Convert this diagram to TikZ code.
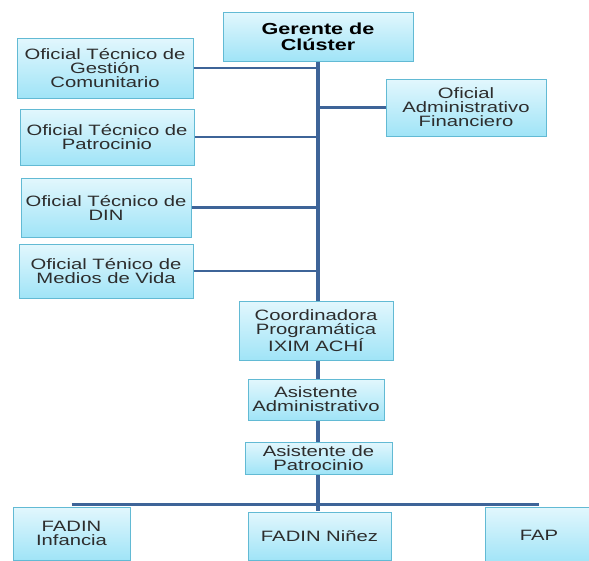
\documentclass[tikz,border=0pt]{standalone}
\usepackage{fontspec}
\setmainfont{Liberation Sans}
\newfontfamily\boxfont[FakeStretch=1.35]{Liberation Sans}
\usetikzlibrary{shadows}
\definecolor{boxtop}{RGB}{226,247,253}
\definecolor{boxbot}{RGB}{160,228,247}
\definecolor{boxborder}{RGB}{98,186,212}
\definecolor{lineblue}{RGB}{62,100,152}
\definecolor{textgray}{RGB}{45,45,45}
\tikzset{
  orgbox/.style={draw=boxborder, line width=1pt, top color=boxtop, bottom color=boxbot,
    drop shadow={shadow xshift=1pt, shadow yshift=-1.2pt, opacity=0.3, fill=black!70},
    inner sep=0pt, align=center, text=textgray,
    font={\boxfont\fontsize{15}{14}\selectfont}},
  headbox/.style={orgbox, text=black, font={\boxfont\bfseries\fontsize{16}{16}\selectfont}},
  trunk/.style={draw=lineblue, line width=4pt},
  branch/.style={draw=lineblue, line width=2.6pt},
}
\begin{document}
\begin{tikzpicture}[x=1pt, y=-1pt]
\useasboundingbox (0,0) rectangle (589,560);
\clip (0,0) rectangle (589,560);
% nodes
\node[headbox, minimum width=190pt, minimum height=49pt] (ger) at (318,36.5) {Gerente de\\Clúster};
\node[orgbox, minimum width=176pt, minimum height=60pt] (b1) at (105,68) {Oficial Técnico de\\Gestión\\Comunitario};
\node[orgbox, minimum width=174pt, minimum height=56pt] (b2) at (107,137) {Oficial Técnico de\\Patrocinio};
\node[orgbox, minimum width=170pt, minimum height=59pt] (b3) at (106,207.5) {Oficial Técnico de\\DIN};
\node[orgbox, minimum width=174pt, minimum height=54pt] (b4) at (106,271) {Oficial Ténico de\\Medios de Vida};
\node[orgbox, minimum width=160pt, minimum height=57pt] (oaf) at (466,107.5) {Oficial\\Administrativo\\Financiero};
% connectors (behind lower boxes)
\begin{scope}[on background layer/.try]
\end{scope}
\coordinate (tb) at (318,511);
\draw[trunk] (ger.south) -- (tb);
\draw[branch] (b1.east) -- (b1.east -| ger.south);
\draw[branch] (b2.east) -- (b2.east -| ger.south);
\draw[branch] (b3.east) -- (b3.east -| ger.south);
\draw[branch] (b4.east) -- (b4.east -| ger.south);
\draw[branch] (oaf.west) -- (oaf.west -| ger.south);
\node[orgbox, minimum width=154pt, minimum height=59pt] (coord) at (316,330.5) {Coordinadora\\Programática\\IXIM ACHÍ};
\node[orgbox, minimum width=136pt, minimum height=41pt] (aadm) at (316,399.5) {Asistente\\Administrativo};
\node[orgbox, minimum width=147pt, minimum height=32pt] (apat) at (318.5,458) {Asistente de\\Patrocinio};
\node[orgbox, minimum width=117pt, minimum height=53pt] (fi) at (71.5,533.5) {FADIN\\Infancia};
\node[orgbox, minimum width=143pt, minimum height=48pt] (fn) at (319.5,536) {FADIN Niñez};
\node[orgbox, minimum width=108pt, minimum height=56pt] (fap) at (539,535) {FAP};
\draw[branch] ([yshift=2pt]fi.north) -- ([yshift=2pt]fap.north);
\end{tikzpicture}
\end{document}
